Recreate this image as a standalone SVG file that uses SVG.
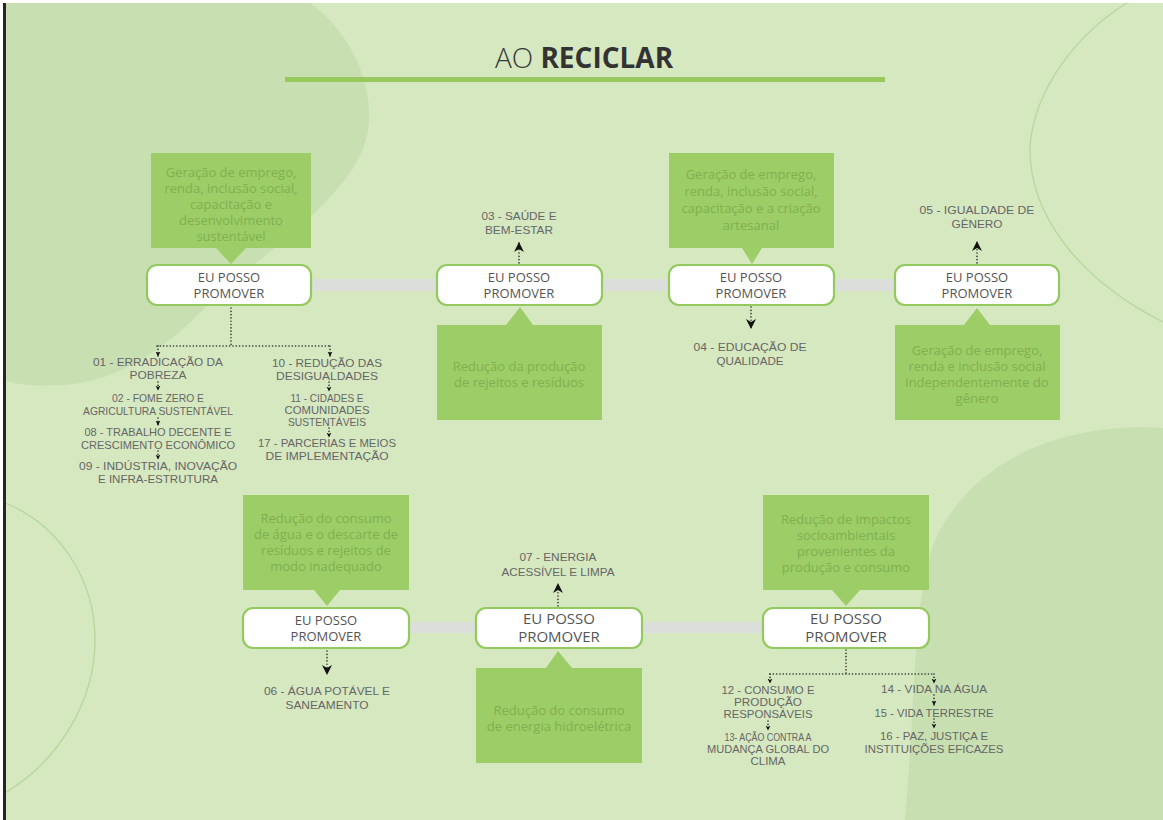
<svg xmlns="http://www.w3.org/2000/svg" width="1163" height="820" viewBox="0 0 1163 820">
  <defs>
    <style>
      .node rect { fill: #ffffff; stroke: #93c95e; stroke-width: 2.2; }
      .node text { font-family: "Open Sans", "Liberation Sans", sans-serif; font-size: 13px; fill: #555555; text-anchor: middle; }
      .node.big text { font-size: 15px; }
      .callout path { fill: #9dcd66; }
      .callout text { font-family: "Open Sans", "Liberation Sans", sans-serif; font-size: 13px; fill: #80b051; text-anchor: middle; }
      .sdg { font-family: "Liberation Sans", Arial, sans-serif; font-size: 10.8px; fill: #666666; text-anchor: middle; }
      .bar { fill: #dcdedb; }
      .dot { stroke: #333333; stroke-width: 1.6; stroke-dasharray: 0.1 3.2; stroke-linecap: round; fill: none; }
    </style>
    <marker id="ah" viewBox="0 0 10 10" refX="9" refY="5" markerWidth="10" markerHeight="11" orient="auto" markerUnits="userSpaceOnUse">
      <path d="M0,0 L10,5 L0,10 L3,5 Z" fill="#111111"/>
    </marker>
    <marker id="ahs" viewBox="0 0 10 10" refX="9" refY="5" markerWidth="5" markerHeight="6" orient="auto" markerUnits="userSpaceOnUse">
      <path d="M0,0 L10,5 L0,10 L3,5 Z" fill="#111111"/>
    </marker>
  </defs>

  <!-- page background -->
  <rect x="0" y="0" width="1163" height="820" fill="#ffffff"/>
  <rect x="5" y="3" width="1158" height="817" fill="#d6e8c0"/>
  <!-- soft background shapes -->
  <path d="M5,3 L310,3 C355,35 378,95 366,140 C350,198 262,255 212,300 C180,335 130,380 65,385 C35,387 15,384 5,380 Z" fill="#c8dfb2"/>
  <path d="M1163,428 C1070,422 975,455 935,540 C912,600 916,700 905,820 L1163,820 Z" fill="#c8dfb2"/>
  <path d="M1127,3 C1075,35 1035,90 1030,145 C1028,215 1080,280 1163,322" fill="none" stroke="#b8d69d" stroke-width="1.3"/>
  <path d="M5,503 C60,525 95,580 95,640 C95,700 60,760 5,793" fill="none" stroke="#b8d69d" stroke-width="1.3"/>
  <!-- left page edge -->
  <rect x="3" y="3" width="3" height="817" fill="#262626"/>

  <!-- title -->
  <g id="title">
    <text x="584" y="68" text-anchor="middle" font-family="'Open Sans', 'Liberation Sans', sans-serif" font-size="28" fill="#3a3a3a"><tspan font-weight="300">AO </tspan><tspan font-weight="700" fill="#333333">RECICLAR</tspan></text>
    <rect x="285" y="77" width="600" height="5" fill="#98c95f"/>
  </g>

  <!-- connectors -->
  <g id="connectors">
    <rect class="bar" x="311" y="279" width="126" height="12"/>
    <rect class="bar" x="602" y="279" width="67" height="12"/>
    <rect class="bar" x="834" y="279" width="60" height="12"/>
    <rect class="bar" x="408" y="622" width="68" height="11"/>
    <rect class="bar" x="642" y="622" width="121" height="11"/>

    <!-- node 1 tree -->
    <line class="dot" x1="231" y1="308" x2="231" y2="346"/>
    <line class="dot" x1="157" y1="346" x2="330" y2="346"/>
    <line class="dot" x1="158" y1="346" x2="158" y2="356" marker-end="url(#ahs)"/>
    <line class="dot" x1="330" y1="346" x2="330" y2="356" marker-end="url(#ahs)"/>
    <line class="dot" x1="158" y1="382" x2="158" y2="390" marker-end="url(#ahs)"/>
    <line class="dot" x1="158" y1="418" x2="158" y2="425" marker-end="url(#ahs)"/>
    <line class="dot" x1="158" y1="451" x2="158" y2="459" marker-end="url(#ahs)"/>
    <line class="dot" x1="329" y1="382" x2="329" y2="391" marker-end="url(#ahs)"/>
    <line class="dot" x1="329" y1="428" x2="329" y2="437" marker-end="url(#ahs)"/>

    <!-- single goals -->
    <line class="dot" x1="519" y1="263" x2="519" y2="243" marker-end="url(#ah)"/>
    <line class="dot" x1="977" y1="263" x2="977" y2="242" marker-end="url(#ah)"/>
    <line class="dot" x1="751" y1="307" x2="751" y2="328" marker-end="url(#ah)"/>
    <line class="dot" x1="327" y1="651" x2="327" y2="674" marker-end="url(#ah)"/>
    <line class="dot" x1="558" y1="606" x2="558" y2="584" marker-end="url(#ah)"/>

    <!-- node 7 tree -->
    <line class="dot" x1="846" y1="650" x2="846" y2="674"/>
    <line class="dot" x1="770" y1="674" x2="934" y2="674"/>
    <line class="dot" x1="770" y1="674" x2="770" y2="683" marker-end="url(#ahs)"/>
    <line class="dot" x1="934" y1="674" x2="934" y2="683" marker-end="url(#ahs)"/>
    <line class="dot" x1="768" y1="721" x2="768" y2="730" marker-end="url(#ahs)"/>
    <line class="dot" x1="934" y1="695" x2="934" y2="705" marker-end="url(#ahs)"/>
    <line class="dot" x1="934" y1="719" x2="934" y2="728" marker-end="url(#ahs)"/>
  </g>

  <!-- callouts -->
  <g id="callout1" class="callout">
    <path d="M151,153 H311 V248 H246 L231,264 L216,248 H151 Z"/>
    <text x="231" y="177">Geração de emprego,</text>
    <text x="231" y="193">renda, inclusão social,</text>
    <text x="231" y="209">capacitação e</text>
    <text x="231" y="225">desenvolvimento</text>
    <text x="231" y="241">sustentável</text>
  </g>
  <g id="callout2" class="callout">
    <path d="M437,325 H506 L520,307 L533,325 H602 V420 H437 Z"/>
    <text x="519" y="371">Redução da produção</text>
    <text x="519" y="387">de rejeitos e resíduos</text>
  </g>
  <g id="callout3" class="callout">
    <path d="M669,153 H834 V248 H762 L752,264 L742,248 H669 Z"/>
    <text x="751" y="179">Geração de emprego,</text>
    <text x="751" y="196">renda, inclusão social,</text>
    <text x="751" y="213">capacitação e a criação</text>
    <text x="751" y="230">artesanal</text>
  </g>
  <g id="callout4" class="callout">
    <path d="M895,325 H964 L977,308 L990,325 H1060 V420 H895 Z"/>
    <text x="977" y="355">Geração de emprego,</text>
    <text x="977" y="371">renda e inclusão social</text>
    <text x="977" y="387">independentemente do</text>
    <text x="977" y="403">gênero</text>
  </g>
  <g id="callout5" class="callout">
    <path d="M243,495 H409 V590 H340 L327,606 L314,590 H243 Z"/>
    <text x="326" y="523">Redução do consumo</text>
    <text x="326" y="539">de água e o descarte de</text>
    <text x="326" y="555">resíduos e rejeitos de</text>
    <text x="326" y="571">modo inadequado</text>
  </g>
  <g id="callout6" class="callout">
    <path d="M476,668 H546 L558,651 L572,668 H642 V763 H476 Z"/>
    <text x="559" y="715">Redução do consumo</text>
    <text x="559" y="731">de energia hidroelétrica</text>
  </g>
  <g id="callout7" class="callout">
    <path d="M763,495 H929 V590 H860 L846,606 L832,590 H763 Z"/>
    <text x="846" y="524">Redução de impactos</text>
    <text x="846" y="540">socioambientais</text>
    <text x="846" y="556">provenientes da</text>
    <text x="846" y="572">produção e consumo</text>
  </g>

  <!-- nodes -->
  <g id="node1" class="node">
    <rect x="147" y="265" width="164" height="40" rx="10"/>
    <text x="229" y="282">EU POSSO</text>
    <text x="229" y="298">PROMOVER</text>
  </g>
  <g id="node2" class="node">
    <rect x="437" y="265" width="165" height="40" rx="10"/>
    <text x="519" y="282">EU POSSO</text>
    <text x="519" y="298">PROMOVER</text>
  </g>
  <g id="node3" class="node">
    <rect x="669" y="265" width="165" height="40" rx="10"/>
    <text x="751" y="282">EU POSSO</text>
    <text x="751" y="298">PROMOVER</text>
  </g>
  <g id="node4" class="node">
    <rect x="895" y="265" width="164" height="40" rx="10"/>
    <text x="977" y="282">EU POSSO</text>
    <text x="977" y="298">PROMOVER</text>
  </g>
  <g id="node5" class="node">
    <rect x="243" y="608" width="166" height="40" rx="10"/>
    <text x="326" y="625">EU POSSO</text>
    <text x="326" y="641">PROMOVER</text>
  </g>
  <g id="node6" class="node big">
    <rect x="476" y="608" width="166" height="40" rx="10"/>
    <text x="559" y="624">EU POSSO</text>
    <text x="559" y="642">PROMOVER</text>
  </g>
  <g id="node7" class="node big">
    <rect x="763" y="608" width="166" height="40" rx="10"/>
    <text x="846" y="624">EU POSSO</text>
    <text x="846" y="642">PROMOVER</text>
  </g>

  <!-- goals -->
  <g id="goal03">
    <text class="sdg" x="519" y="220" textLength="75" lengthAdjust="spacingAndGlyphs">03 - SAÚDE E</text>
    <text class="sdg" x="519" y="234" textLength="68" lengthAdjust="spacingAndGlyphs">BEM-ESTAR</text>
  </g>
  <g id="goal05">
    <text class="sdg" x="977" y="214" textLength="115" lengthAdjust="spacingAndGlyphs">05 - IGUALDADE DE</text>
    <text class="sdg" x="977" y="228" textLength="51" lengthAdjust="spacingAndGlyphs">GÊNERO</text>
  </g>
  <g id="goal04">
    <text class="sdg" x="750" y="351" textLength="113" lengthAdjust="spacingAndGlyphs">04 - EDUCAÇÃO DE</text>
    <text class="sdg" x="750" y="365" textLength="67" lengthAdjust="spacingAndGlyphs">QUALIDADE</text>
  </g>
  <g id="goal06">
    <text class="sdg" x="327" y="695" textLength="126" lengthAdjust="spacingAndGlyphs">06 - ÁGUA POTÁVEL E</text>
    <text class="sdg" x="327" y="709" textLength="83" lengthAdjust="spacingAndGlyphs">SANEAMENTO</text>
  </g>
  <g id="goal07">
    <text class="sdg" x="558" y="561" textLength="77" lengthAdjust="spacingAndGlyphs">07 - ENERGIA</text>
    <text class="sdg" x="558" y="576" textLength="113" lengthAdjust="spacingAndGlyphs">ACESSÍVEL E LIMPA</text>
  </g>

  <g id="goals-node1-left">
    <text class="sdg" x="158" y="366" textLength="130" lengthAdjust="spacingAndGlyphs">01 - ERRADICAÇÃO DA</text>
    <text class="sdg" x="158" y="379" textLength="57" lengthAdjust="spacingAndGlyphs">POBREZA</text>
    <text class="sdg" x="158" y="402" textLength="92" lengthAdjust="spacingAndGlyphs">02 - FOME ZERO E</text>
    <text class="sdg" x="158" y="415" textLength="150" lengthAdjust="spacingAndGlyphs">AGRICULTURA SUSTENTÁVEL</text>
    <text class="sdg" x="158" y="436" textLength="147" lengthAdjust="spacingAndGlyphs">08 - TRABALHO DECENTE E</text>
    <text class="sdg" x="158" y="449" textLength="154" lengthAdjust="spacingAndGlyphs">CRESCIMENTO ECONÔMICO</text>
    <text class="sdg" x="158" y="470" textLength="158" lengthAdjust="spacingAndGlyphs">09 - INDÚSTRIA, INOVAÇÃO</text>
    <text class="sdg" x="158" y="483" textLength="120" lengthAdjust="spacingAndGlyphs">E INFRA-ESTRUTURA</text>
  </g>
  <g id="goals-node1-right">
    <text class="sdg" x="327" y="367" textLength="110" lengthAdjust="spacingAndGlyphs">10 - REDUÇÃO DAS</text>
    <text class="sdg" x="327" y="380" textLength="102" lengthAdjust="spacingAndGlyphs">DESIGUALDADES</text>
    <text class="sdg" x="327" y="402" textLength="73" lengthAdjust="spacingAndGlyphs">11 - CIDADES E</text>
    <text class="sdg" x="327" y="414" textLength="85" lengthAdjust="spacingAndGlyphs">COMUNIDADES</text>
    <text class="sdg" x="327" y="426" textLength="78" lengthAdjust="spacingAndGlyphs">SUSTENTÁVEIS</text>
    <text class="sdg" x="327" y="447" textLength="138" lengthAdjust="spacingAndGlyphs">17 - PARCERIAS E MEIOS</text>
    <text class="sdg" x="327" y="460" textLength="123" lengthAdjust="spacingAndGlyphs">DE IMPLEMENTAÇÃO</text>
  </g>

  <g id="goals-node7-left">
    <text class="sdg" x="768" y="694" textLength="93" lengthAdjust="spacingAndGlyphs">12 - CONSUMO E</text>
    <text class="sdg" x="768" y="706" textLength="68" lengthAdjust="spacingAndGlyphs">PRODUÇÃO</text>
    <text class="sdg" x="768" y="718" textLength="89" lengthAdjust="spacingAndGlyphs">RESPONSÁVEIS</text>
    <text class="sdg" x="768" y="741" textLength="87" lengthAdjust="spacingAndGlyphs">13- AÇÃO CONTRA A</text>
    <text class="sdg" x="768" y="753" textLength="122" lengthAdjust="spacingAndGlyphs">MUDANÇA GLOBAL DO</text>
    <text class="sdg" x="768" y="765" textLength="35" lengthAdjust="spacingAndGlyphs">CLIMA</text>
  </g>
  <g id="goals-node7-right">
    <text class="sdg" x="934" y="693" textLength="106" lengthAdjust="spacingAndGlyphs">14 - VIDA NA ÁGUA</text>
    <text class="sdg" x="934" y="717" textLength="119" lengthAdjust="spacingAndGlyphs">15 - VIDA TERRESTRE</text>
    <text class="sdg" x="934" y="740" textLength="108" lengthAdjust="spacingAndGlyphs">16 - PAZ, JUSTIÇA E</text>
    <text class="sdg" x="934" y="753" textLength="139" lengthAdjust="spacingAndGlyphs">INSTITUIÇÕES EFICAZES</text>
  </g>
</svg>
